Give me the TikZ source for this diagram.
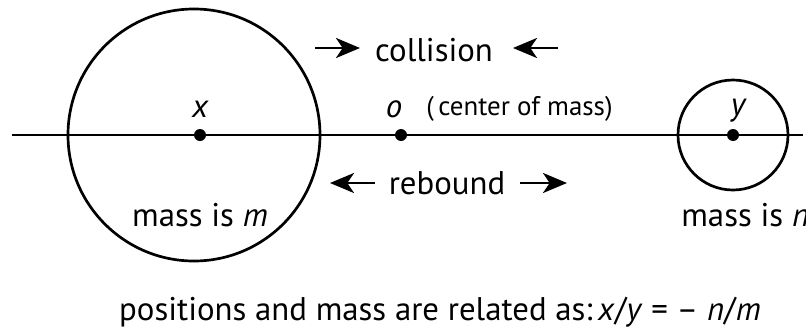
\documentclass[tikz,border=0pt]{standalone}
\usepackage{fontspec}
\setmainfont{PT Sans}
\usetikzlibrary{arrows.meta}

\begin{document}
\begin{tikzpicture}[x=0.03cm, y=-0.03cm, line width=2.3pt,
  dot/.style={circle, fill, inner sep=0pt, minimum size=0.36cm},
  body/.style={circle, draw, inner sep=0pt},
  txt/.style={inner sep=0pt, anchor=base, font=\fontsize{28}{32}\selectfont},
  small/.style={inner sep=0pt, anchor=base west, font=\fontsize{23}{27}\selectfont},
  mv/.style={-{Stealth[length=0.72cm, width=0.6cm, inset=0.2cm]}}]
 \useasboundingbox (0,0) rectangle (806,333);

 % axis
 \coordinate (left) at (12,135);
 \coordinate (right) at (803,135);
 \draw (left) -- (right);

 % the two masses
 \node[body, minimum size=7.56cm] (big) at (194,135) {};
 \node[body, minimum size=3.3cm] (little) at (733,135) {};
 \node[dot] (x) at (200,135) {};
 \node[dot] (o) at (401,135) {};
 \node[dot] (y) at (733,135) {};

 % labels
 \node[txt] (xl) at (200,117) {\itshape x};
 \node[txt] (ol) at (394,117) {\itshape o};
 \node[small] (cm) at (425,115) {(\,center of mass)};
 \node[txt] (yl) at (738,115) {\itshape y};
 \node[txt] (coll) at (434,61.7) {collision};
 \node[txt] (reb) at (447,194) {rebound};
 \node[txt] (mm) at (200,226) {mass is \textit{m}};
 \node[txt, anchor=base west] (mn) at (680,226) {mass is \textit{n}};
 \node[txt] (rel) at (440,320) {positions and mass are related as:\,\textit{x}/\textit{y} = – \textit{n}/\textit{m}};

 % motion arrows
 \coordinate (c1) at (315,48);
 \coordinate (c2) at (360,48);
 \coordinate (c3) at (558,48);
 \coordinate (c4) at (513,48);
 \coordinate (r1) at (375,183);
 \coordinate (r2) at (330,183);
 \coordinate (r3) at (520,183);
 \coordinate (r4) at (567,183);
 \draw[mv] (c1) -- (c2);
 \draw[mv] (c3) -- (c4);
 \draw[mv] (r1) -- (r2);
 \draw[mv] (r3) -- (r4);
\end{tikzpicture}
\end{document}
